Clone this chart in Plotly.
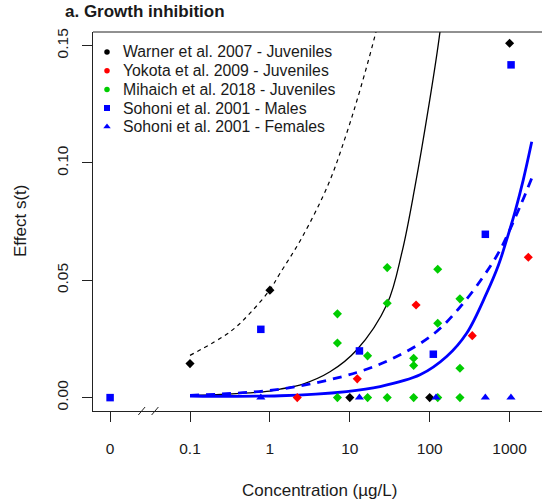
import plotly.graph_objects as go

# ---------------- observed effects ----------------
warner_conc = [0.1, 1, 10, 100, 1000]
warner_eff = [0.0145, 0.0458, 0.0, 0.0, 0.151]

yokota_conc = [2.2, 12.4, 67.5, 341, 1714]
yokota_eff = [0.0, 0.008, 0.0395, 0.0264, 0.0598]

mihaich_conc = [7, 7, 7, 16.7, 16.7, 29.4, 29.4, 29.4, 63, 63, 63,
                126, 126, 126, 239, 239, 239]
mihaich_eff = [0.0, 0.0233, 0.0357, 0.0, 0.0178, 0.0, 0.0402, 0.0554,
               0.0, 0.0137, 0.0168, 0.0, 0.0317, 0.0547, 0.0, 0.0125, 0.0421]

sohoni_m_conc = [0, 0.77, 13.2, 111, 497, 1043]
sohoni_m_eff = [0.0, 0.0291, 0.0199, 0.0185, 0.0696, 0.1418]

sohoni_f_conc = [0.77, 13.2, 120, 497, 1040]
sohoni_f_eff = [0.0, 0.0, 0.0, 0.0, 0.0]

# ---------------- fitted curves ----------------
warner_fit_a_conc = [0.1, 0.316, 0.564, 1, 1.34, 2.5, 5.4, 9.0, 13.4, 21.3, 30]
warner_fit_a_eff = [0.018, 0.028, 0.036, 0.046, 0.053, 0.068, 0.091, 0.112, 0.131, 0.156, 0.178]

warner_fit_b_conc = [0.1, 0.3, 1, 1.34, 2.6, 5.65, 12.2, 29.4, 45, 65.5, 96, 134.6, 170]
warner_fit_b_eff = [0.001, 0.0015, 0.0028, 0.0036, 0.0058, 0.011, 0.0203, 0.040, 0.062,
                    0.09, 0.123, 0.156, 0.19]

sohoni_fit_m_conc = [0.1, 1.34, 9.1, 23.9, 75.7, 163, 290, 516, 726, 918, 1175, 1483, 1893]
sohoni_fit_m_eff = [0.0007, 0.0008, 0.0026, 0.0047, 0.0097, 0.0175, 0.0274, 0.0445,
                    0.0565, 0.0672, 0.0795, 0.0928, 0.109]

sohoni_fit_f_conc = [0.1, 1.34, 12.2, 38.6, 111, 239, 469, 759, 1349, 1893]
sohoni_fit_f_eff = [0.001, 0.0036, 0.0107, 0.0175, 0.027, 0.0385, 0.0516, 0.0629,
                    0.0814, 0.0935]

tick_vals = [0.01, 0.1, 1, 10, 100, 1000]
tick_text = ["0", "0.1", "1", "10", "100", "1000"]
ZERO_POS = 0.01  # control (0 µg/L) drawn left of the axis break

legend_labels = ["Warner et al. 2007 - Juveniles", "Yokota et al. 2009 - Juveniles",
                 "Mihaich et al. 2018 - Juveniles", "Sohoni et al. 2001 - Males",
                 "Sohoni et al. 2001 - Females"]
legend_colors = ["#000000", "#FF0000", "#00CD00", "#0000FF", "#0000FF"]
legend_symbols = ["circle", "circle", "circle", "square", "triangle-up"]

FONT = "Liberation Sans, Arial, sans-serif"
W, H = 542, 499
L, R, T, B = 93, 0, 32, 88
PW, PH = W - L - R, H - T - B


def px(xp):
    return (xp - L) / PW


def py(yp):
    return (H - B - yp) / PH


def pos(c):
    return [ZERO_POS if v == 0 else v for v in c]


fig = go.Figure()

# fitted curves
fig.add_trace(go.Scatter(x=warner_fit_a_conc, y=warner_fit_a_eff, mode="lines",
                         line=dict(color="black", width=1.2, dash="4px,4px", shape="spline"),
                         showlegend=False))
fig.add_trace(go.Scatter(x=warner_fit_b_conc, y=warner_fit_b_eff, mode="lines",
                         line=dict(color="black", width=1.3, shape="spline"),
                         showlegend=False))
fig.add_trace(go.Scatter(x=sohoni_fit_m_conc, y=sohoni_fit_m_eff, mode="lines",
                         line=dict(color="#0000FF", width=2.8, shape="spline"),
                         showlegend=False))
fig.add_trace(go.Scatter(x=sohoni_fit_f_conc, y=sohoni_fit_f_eff, mode="lines",
                         line=dict(color="#0000FF", width=2.8, dash="9px,7px", shape="spline"),
                         showlegend=False))

# observations
obs = [
    (warner_conc, warner_eff, "#000000", "diamond", 7),
    (yokota_conc, yokota_eff, "#FF0000", "diamond", 7),
    (mihaich_conc, mihaich_eff, "#00CD00", "diamond", 7),
    (sohoni_m_conc, sohoni_m_eff, "#0000FF", "square", 7.5),
    (sohoni_f_conc, sohoni_f_eff, "#0000FF", "triangle-up", 8),
]
for c, e, col, sym, sz in obs:
    fig.add_trace(go.Scatter(x=pos(c), y=e, mode="markers", cliponaxis=False,
                             marker=dict(color=col, symbol=sym, size=sz, line=dict(width=0)),
                             showlegend=False))

# legend drawn on an overlay axis spanning the plot area
leg_rows = [52, 70.7, 89.4, 108, 126.7]
leg_sizes = [5.5, 5.5, 5.5, 6, 6.5]
for lab, col, sym, yrow, sz in zip(legend_labels, legend_colors, legend_symbols, leg_rows, leg_sizes):
    fig.add_trace(go.Scatter(x=[px(107)], y=[py(yrow)], xaxis="x2", yaxis="y2",
                             mode="markers", showlegend=False,
                             marker=dict(color=col, symbol=sym, size=sz, line=dict(width=0))))
    fig.add_annotation(x=px(121), y=py(yrow), xref="paper", yref="paper", text=lab,
                       showarrow=False, xanchor="left", yanchor="middle",
                       font=dict(family=FONT, size=15.8, color="#1a1a1a"))

# frame: top edge and axis break on the x axis
fig.add_shape(type="line", xref="paper", yref="paper", x0=0, x1=1, y0=1, y1=1,
              line=dict(color="#222222", width=1))
for xc in (141.7, 155):
    fig.add_shape(type="line", xref="paper", yref="paper",
                  x0=px(xc - 3.4), x1=px(xc + 3.4), y0=py(415), y1=py(407),
                  line=dict(color="#222222", width=1))

# titles
fig.add_annotation(x=px(63), y=py(12), xref="paper", yref="paper",
                   text="<b>a. Growth inhibition</b>", showarrow=False,
                   xanchor="left", yanchor="middle",
                   font=dict(family=FONT, size=17, color="#1a1a1a"))
fig.add_annotation(x=px(319.5), y=py(490), xref="paper", yref="paper",
                   text="Concentration (µg/L)", showarrow=False,
                   xanchor="center", yanchor="middle",
                   font=dict(family=FONT, size=17, color="#1a1a1a"))
fig.add_annotation(x=px(20), y=py(221), xref="paper", yref="paper",
                   text="Effect s(t)", showarrow=False, textangle=-90,
                   xanchor="center", yanchor="middle",
                   font=dict(family=FONT, size=17, color="#1a1a1a"))

fig.update_layout(
    width=W, height=H,
    margin=dict(l=L, r=R, t=T, b=B, pad=0),
    paper_bgcolor="white", plot_bgcolor="white",
    showlegend=False,
    xaxis=dict(type="log", range=[-2.214, 3.4055], tickvals=tick_vals, ticktext=tick_text,
               showgrid=False, zeroline=False, showline=True, linecolor="#222222", linewidth=1,
               ticks="outside", ticklen=10, tickcolor="#222222", tickwidth=1,
               ticklabelstandoff=13,
               tickfont=dict(family=FONT, size=15.5, color="#1a1a1a")),
    yaxis=dict(range=[-0.0057, 0.1558], tickvals=[0, 0.05, 0.10, 0.15],
               ticktext=["0.00", "0.05", "0.10", "0.15"], tickangle=-90,
               showgrid=False, zeroline=False, showline=True, linecolor="#222222", linewidth=1,
               ticks="outside", ticklen=10, tickcolor="#222222", tickwidth=1,
               ticklabelstandoff=8,
               tickfont=dict(family=FONT, size=15.5, color="#1a1a1a")),
    xaxis2=dict(overlaying="x", range=[0, 1], visible=False, fixedrange=True),
    yaxis2=dict(overlaying="y", range=[0, 1], visible=False, fixedrange=True),
)

fig.write_html("out.html")
